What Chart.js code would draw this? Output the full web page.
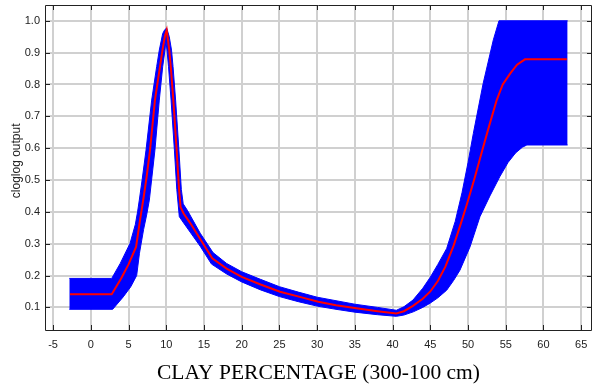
<!DOCTYPE html>
<html><head><meta charset="utf-8">
<script src="https://cdn.jsdelivr.net/npm/chart.js@4/dist/chart.umd.min.js"></script>
<style>html,body{margin:0;padding:0;background:#fff;}#wrap{width:592px;height:389px;}</style>
</head><body><div id="wrap"><canvas id="c" width="592" height="389"></canvas></div>
<script>
const xTicks = [-5,0,5,10,15,20,25,30,35,40,45,50,55,60,65];
const yTicks = [0.1,0.2,0.3,0.4,0.5,0.6,0.7,0.8,0.9,1.0];

const meanX = [-2.76,2.77,4.0,5.0,6.0,6.5,7.0,7.4,7.85,8.5,9.17,9.5,9.85,10.06,10.4,10.6,10.94,11.38,11.7,11.9,12.3,13.2,14.5,16.1,18,20,22.5,25.08,27.7,30.15,32.5,35.2,38,40.5,41.5,42.7,44,45,46,47,48.1,49,49.8,50.8,51.9,52.8,53.8,54.6,55.6,56.5,57.55,63.1];
const meanY = [0.141,0.141,0.19,0.235,0.29,0.37,0.445,0.51,0.594,0.751,0.856,0.908,0.955,0.971,0.908,0.856,0.751,0.594,0.47,0.415,0.395,0.364,0.315,0.254,0.222,0.196,0.172,0.149,0.133,0.118,0.107,0.097,0.088,0.081,0.088,0.105,0.127,0.15,0.183,0.228,0.295,0.36,0.42,0.5,0.594,0.67,0.751,0.80,0.835,0.862,0.879,0.879];

const upperX = [-2.85,2.77,3.9,5.2,5.9,6.2,6.43,6.8,7.32,8.07,8.73,9.08,9.53,9.8,10.06,10.4,10.7,10.9,11.24,11.68,12.0,12.25,12.8,14.5,16.2,18,20,22.5,25,27.5,30,32.5,35,38,40.5,41.5,42.7,44,45,46,47.17,48.3,49.2,50.0,50.7,52.0,53.35,54.1,63.2];
const upperY = [0.191,0.191,0.238,0.301,0.36,0.40,0.437,0.50,0.594,0.751,0.856,0.908,0.96,0.972,0.977,0.95,0.908,0.856,0.751,0.594,0.47,0.425,0.405,0.333,0.272,0.238,0.212,0.188,0.165,0.148,0.132,0.121,0.11,0.1,0.091,0.102,0.123,0.16,0.195,0.235,0.285,0.37,0.46,0.555,0.646,0.803,0.94,1.0,1.0];

const lowerX = [-2.85,2.9,4.3,5.3,6.08,6.45,7.0,7.4,7.76,8.5,9.08,9.53,9.83,9.95,10.1,10.3,10.64,11.08,11.4,11.73,12.1,14.5,16.0,18,20,22.5,25,27.5,30,32.5,35,38,40.5,41.5,42.74,44,44.96,46,47.17,48.1,48.93,50.26,51.58,52.9,54.2,55.3,56.3,57.2,57.8,63.2];
const lowerY = [0.094,0.094,0.133,0.165,0.2,0.27,0.345,0.39,0.437,0.594,0.751,0.856,0.908,0.936,0.908,0.856,0.751,0.594,0.47,0.385,0.372,0.292,0.236,0.205,0.18,0.155,0.134,0.118,0.104,0.094,0.085,0.077,0.072,0.076,0.086,0.1,0.113,0.13,0.154,0.185,0.217,0.29,0.385,0.45,0.51,0.555,0.585,0.603,0.61,0.61];

const xTitle = 'CLAY PERCENTAGE (300-100 cm)';
const yTitle = '    cloglog output';

const pts = (xs, ys) => xs.map((x, i) => ({x: x, y: ys[i]}));

const frameTicks = {
  id: 'frameTicks',
  afterDatasetsDraw(chart) {
    const {ctx, chartArea: a, scales: {x, y}} = chart;
    ctx.save();
    ctx.strokeStyle = '#222';
    ctx.lineWidth = 1;
    ctx.beginPath();
    xTicks.forEach(v => {
      const p = Math.round(x.getPixelForValue(v)) + 0.5;
      ctx.moveTo(p, a.bottom); ctx.lineTo(p, a.bottom - 5);
      ctx.moveTo(p, a.top); ctx.lineTo(p, a.top + 5);
    });
    yTicks.forEach(v => {
      const p = Math.round(y.getPixelForValue(v)) + 0.5;
      ctx.moveTo(a.left, p); ctx.lineTo(a.left + 5, p);
      ctx.moveTo(a.right, p); ctx.lineTo(a.right - 5, p);
    });
    ctx.stroke();
    ctx.beginPath();
    ctx.moveTo(a.left + 0.5, a.bottom + 0.5);
    ctx.lineTo(a.left + 0.5, a.top + 0.5);
    ctx.lineTo(a.right - 0.5, a.top + 0.5);
    ctx.lineTo(a.right - 0.5, a.bottom + 0.5);
    ctx.lineTo(a.left + 0.5, a.bottom + 0.5);
    ctx.stroke();
    ctx.restore();
  }
};

new Chart(document.getElementById('c'), {
  type: 'line',
  data: {
    datasets: [
      {data: pts(meanX, meanY), borderColor: '#ff0000', borderWidth: 2, pointRadius: 0, fill: false, tension: 0},
      {data: pts(lowerX, lowerY), borderColor: '#0000ff', borderWidth: 1, pointRadius: 0, fill: false, tension: 0},
      {data: pts(upperX, upperY), borderColor: '#0000ff', borderWidth: 1, pointRadius: 0, fill: '-1', backgroundColor: '#0000ff', tension: 0}
    ]
  },
  options: {
    responsive: false,
    animation: false,
    devicePixelRatio: 1,
    layout: {padding: {top: 5, right: 0, left: 0, bottom: 0}},
    plugins: {legend: {display: false}, tooltip: {enabled: false}},
    scales: {
      x: {
        type: 'linear', min: -6.07, max: 66.43,
        afterBuildTicks: s => { s.ticks = xTicks.map(v => ({value: v})); },
        afterFit: s => { s.height = 59; s.paddingLeft = 0; s.paddingRight = 0; s.paddingTop = 0; s.paddingBottom = 0; },
        grid: {color: '#d0d0d0', lineWidth: 2, drawTicks: false},
        border: {display: false},
        ticks: {padding: 8, color: '#222', font: {family: 'Liberation Sans', size: 11}, maxRotation: 0, callback: v => String(v)},
        title: {display: true, text: xTitle, color: '#000', font: {family: 'Liberation Serif', size: 21.5}, padding: {top: 0, bottom: 3}}
      },
      y: {
        type: 'linear', min: 0.029, max: 1.0496,
        afterBuildTicks: s => { s.ticks = yTicks.map(v => ({value: v})); },
        afterFit: s => { s.width = 45; s.paddingLeft = 0; s.paddingRight = 0; s.paddingTop = 0; s.paddingBottom = 0; },
        grid: {color: '#d0d0d0', lineWidth: 2, drawTicks: false},
        border: {display: false},
        ticks: {padding: 5, color: '#222', font: {family: 'Liberation Sans', size: 11}, callback: v => Number(v).toFixed(1)},
        title: {display: true, text: yTitle, color: '#222', font: {family: 'Liberation Sans', size: 12}, padding: {top: 9, bottom: 0}}
      }
    }
  },
  plugins: [frameTicks]
});
</script></body></html>
